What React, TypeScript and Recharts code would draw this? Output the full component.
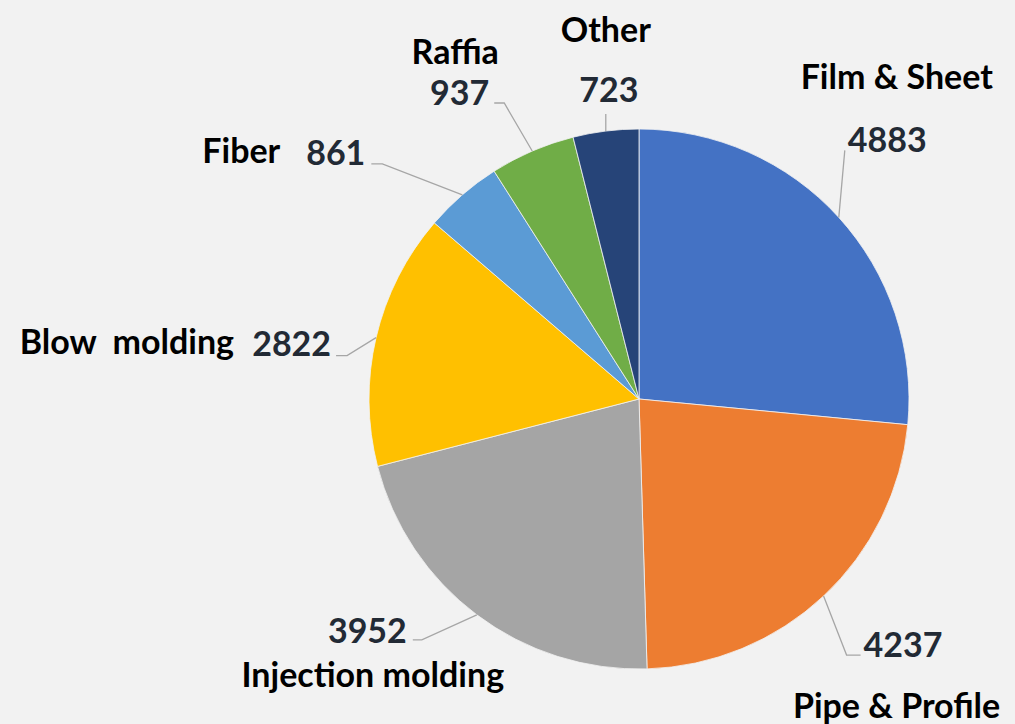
import { PieChart, Pie, Cell } from 'recharts'

const CATEGORIES = ['Film & Sheet', 'Pipe & Profile', 'Injection molding', 'Blow  molding', 'Fiber', 'Raffia', 'Other']
const VALUES = [4883, 4237, 3952, 2822, 861, 937, 723]
const COLORS = ['#4472C4', '#ED7D31', '#A5A5A5', '#FFC000', '#5B9BD5', '#70AD47', '#264478']

// label layout per slice: elbow offset from slice edge, horizontal tail,
// value text offset/anchor from tail end, name offset/anchor from tail end
const LABEL_LAYOUT = [
  { elbow: [6, -67], tail: 0, val: [3, -12, 'start'], name: [52, -75, 'middle'] },
  { elbow: [23, 59], tail: 14, val: [3, -12, 'start'], name: [36, 49, 'middle'] },
  { elbow: [-55, 25], tail: -9, val: [-6, -10, 'end'], name: [-40, 34, 'middle'] },
  { elbow: [-29, 18], tail: -11, val: [-5, -13, 'end'], name: [-102, -15, 'end'] },
  { elbow: [-80, -31], tail: -11, val: [-6, -12, 'end'], name: [-130, -14, 'middle'] },
  { elbow: [-28, -48], tail: -10, val: [-5, -12, 'end'], name: [-39, -53, 'middle'] },
  { elbow: [0, -17], tail: 0, val: [3, -26, 'middle'], name: [0, -86, 'middle'] },
] as const

const FONT = 'Lato, "Open Sans", sans-serif'
const RADIAN = Math.PI / 180

const data = CATEGORIES.map((name, i) => ({ name, value: VALUES[i] }))

function renderLabel(props: any) {
  const { cx, cy, midAngle, outerRadius, index } = props
  const layout = LABEL_LAYOUT[index]
  const ex = cx + outerRadius * Math.cos(-midAngle * RADIAN)
  const ey = cy + outerRadius * Math.sin(-midAngle * RADIAN)
  const bx = ex + layout.elbow[0]
  const by = ey + layout.elbow[1]
  const tx = bx + layout.tail
  const ty = by
  return (
    <g key={`lbl-${index}`}>
      <polyline
        points={`${ex},${ey} ${bx},${by} ${tx},${ty}`}
        fill="none"
        stroke="#a6a6a6"
        strokeWidth={1.3}
      />
      <text
        x={tx + layout.val[0]}
        y={ty + layout.val[1]}
        textAnchor={layout.val[2]}
        dominantBaseline="central"
        fill="#222a35"
        fontSize={34}
        fontWeight={700}
        fontFamily={FONT}
      >
        {VALUES[index]}
      </text>
      <text
        x={tx + layout.name[0]}
        y={ty + layout.name[1]}
        textAnchor={layout.name[2]}
        dominantBaseline="central"
        fill="#000"
        fontSize={34}
        fontWeight={700}
        fontFamily={FONT}
        style={{ whiteSpace: 'pre' }}
      >
        {CATEGORIES[index]}
      </text>
    </g>
  )
}

export default function App() {
  return (
    <div style={{ position: 'absolute', left: 0, top: 0, width: 1015, height: 724, background: '#f2f2f2' }}>
      <PieChart width={1015} height={724} margin={{ top: 0, right: 0, bottom: 0, left: 0 }}>
        <Pie
          data={data}
          dataKey="value"
          nameKey="name"
          cx={639}
          cy={399}
          outerRadius={270}
          startAngle={90}
          endAngle={-270}
          stroke="#f2f2f2"
          strokeWidth={0.8}
          label={renderLabel}
          labelLine={false}
          isAnimationActive={false}
        >
          {data.map((d, i) => (
            <Cell key={d.name} fill={COLORS[i]} />
          ))}
        </Pie>
      </PieChart>
    </div>
  )
}
